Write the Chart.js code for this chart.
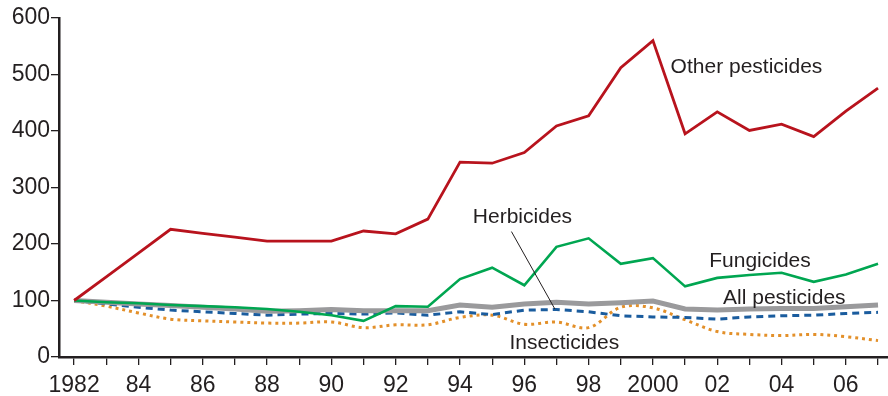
<!DOCTYPE html>
<html>
<head>
<meta charset="utf-8">
<script src="https://cdn.jsdelivr.net/npm/chart.js@4/dist/chart.umd.min.js"></script>
<style>
  html, body { margin: 0; padding: 0; background: #fff; }
  #wrap { width: 888px; height: 396px; }
</style>
</head>
<body>
<div id="wrap"><canvas id="chart" width="888" height="396"></canvas></div>
<script>
const years = [1982, 1983, 1984, 1985, 1986, 1987, 1988, 1989, 1990, 1991, 1992, 1993, 1994,
               1995, 1996, 1997, 1998, 1999, 2000, 2001, 2002, 2003, 2004, 2005, 2006, 2007];

const otherPesticides = [100, 142, 184, 226, 219, 212, 205, 205, 205, 223, 218, 244, 345,
                         343, 362, 409, 427, 512, 560, 395, 434, 401, 412, 390, 435, 476];
const fungicides = [100, 97, 95, 92, 90, 88, 85, 80, 74, 64, 90, 89, 138,
                    158, 127, 195, 210, 165, 175, 125, 140, 145, 149, 133, 146, 165];
const allPesticides = [100, 97, 94, 91, 88, 85, 81, 82, 84, 82, 82, 82, 92,
                       88, 94, 97, 94, 96, 99, 85, 83, 85, 86, 86, 89, 92];
const herbicides = [100, 94, 88, 83, 80, 77, 74, 76, 77, 76, 78, 74, 80,
                    75, 83, 84, 80, 73, 71, 70, 67, 71, 73, 74, 77, 79];
const insecticides = [100, 90, 78, 67, 64, 62, 60, 60, 62, 52, 57, 57, 70,
                      74, 58, 62, 52, 88, 87, 66, 45, 40, 38, 40, 36, 29];

const yTicks = [0, 100, 200, 300, 400, 500, 600];

// label anchors in data units: [text, year, value]
const seriesLabels = [
  ['Other pesticides', 2000.55, 513],
  ['Herbicides', 1994.4, 248],
  ['Fungicides', 2001.75, 170],
  ['All pesticides', 2002.18, 104],
  ['Insecticides', 1995.54, 24]
];
const herbLeader = [[1995.6, 222], [1996.95, 85]];

const ink = '#231f20';
const font = '"Liberation Sans", Arial, Helvetica, sans-serif';

function pts(values) {
  return values.map((v, i) => ({ x: years[i], y: v }));
}

const labelPlugin = {
  id: 'seriesLabels',
  afterDatasetsDraw(chart) {
    const ctx = chart.ctx;
    const xs = chart.scales.x;
    const ys = chart.scales.y;
    ctx.save();
    ctx.strokeStyle = ink;
    ctx.lineWidth = 1;
    ctx.beginPath();
    ctx.moveTo(xs.getPixelForValue(herbLeader[0][0]), ys.getPixelForValue(herbLeader[0][1]));
    ctx.lineTo(xs.getPixelForValue(herbLeader[1][0]), ys.getPixelForValue(herbLeader[1][1]));
    ctx.stroke();
    ctx.fillStyle = ink;
    ctx.font = '21px ' + font;
    ctx.textAlign = 'left';
    ctx.textBaseline = 'middle';
    seriesLabels.forEach(l => {
      ctx.fillText(l[0], xs.getPixelForValue(l[1]), ys.getPixelForValue(l[2]));
    });
    ctx.restore();
  }
};

new Chart('chart', {
  type: 'line',
  data: {
    datasets: [
      {
        label: 'Other pesticides',
        data: pts(otherPesticides),
        borderColor: '#b8131d',
        borderWidth: 2.8,
        tension: 0,
        order: 1
      },
      {
        label: 'Fungicides',
        data: pts(fungicides),
        borderColor: '#00a651',
        borderWidth: 2.6,
        tension: 0,
        order: 2
      },
      {
        label: 'All pesticides',
        data: pts(allPesticides),
        borderColor: '#9a9a9c',
        borderWidth: 5,
        tension: 0,
        order: 3
      },
      {
        label: 'Herbicides',
        data: pts(herbicides),
        borderColor: '#1a5c9e',
        borderWidth: 3,
        borderDash: [7, 5],
        tension: 0,
        order: 4
      },
      {
        label: 'Insecticides',
        data: pts(insecticides),
        borderColor: '#e3902a',
        borderWidth: 3,
        borderDash: [3, 4],
        tension: 0.35,
        order: 5
      }
    ]
  },
  options: {
    responsive: false,
    animation: false,
    layout: { padding: { top: 18, right: 0, left: 0, bottom: 0 } },
    elements: { point: { radius: 0 } },
    plugins: {
      legend: { display: false },
      tooltip: { enabled: false }
    },
    scales: {
      x: {
        type: 'linear',
        min: 1981.53,
        max: 2007.31,
        afterBuildTicks(scale) {
          scale.ticks = years.map(v => ({ value: v }));
        },
        afterFit(scale) { scale.height = 39; },
        border: { color: ink, width: 2.5 },
        grid: { display: true, drawOnChartArea: false, drawTicks: true, tickLength: 8, color: ink, lineWidth: 1.3 },
        ticks: {
          autoSkip: false,
          maxRotation: 0,
          padding: 7,
          color: ink,
          font: { family: font, size: 23 },
          callback(v) {
            if (v % 2 !== 0) return '';
            if (v === 1982) return '1982';
            if (v === 2000) return '2000';
            return String(v).slice(2);
          }
        }
      },
      y: {
        min: 0,
        max: 600,
        afterBuildTicks(scale) {
          scale.ticks = yTicks.map(v => ({ value: v }));
        },
        afterFit(scale) { scale.width = 59; },
        border: { color: ink, width: 2.5 },
        grid: { display: true, drawOnChartArea: false, drawTicks: true, tickLength: 8, color: ink, lineWidth: 1.3 },
        ticks: {
          padding: 1,
          color: ink,
          font: { family: font, size: 23 }
        }
      }
    }
  },
  plugins: [labelPlugin]
});
</script>
</body>
</html>
